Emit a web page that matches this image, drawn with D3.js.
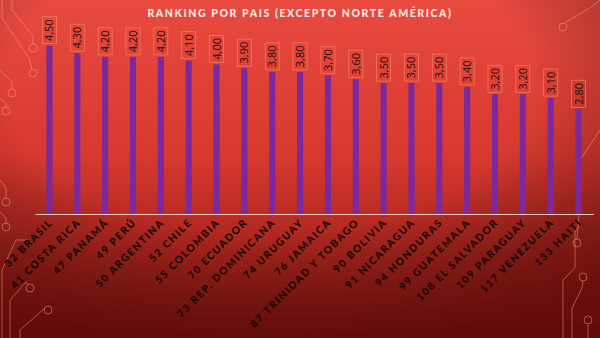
<!DOCTYPE html>
<html><head><meta charset="utf-8">
<script src="https://cdn.jsdelivr.net/npm/d3@7"></script>
<style>html,body{margin:0;padding:0;overflow:hidden;background:#c9302a}</style>
</head><body>
<svg id="c" width="600" height="338"></svg>
<script>
const countries = ["32 BRASIL","41 COSTA RICA","47 PANAMÁ","49 PERÚ","50 ARGENTINA","52 CHILE","55 COLOMBIA","70 ECUADOR","73 REP. DOMINICANA","74 URUGUAY","76 JAMAICA","87 TRINIDAD Y TOBAGO","90 BOLIVIA","91 NICARAGUA","94 HONDURAS","99 GUATEMALA","108 EL SALVADOR","109 PARAGUAY","117 VENEZUELA","133 HAITI"];
const values = [4.5,4.3,4.2,4.2,4.2,4.1,4.0,3.9,3.8,3.8,3.7,3.6,3.5,3.5,3.5,3.4,3.2,3.2,3.1,2.8];
const valueLabels = ["4,50","4,30","4,20","4,20","4,20","4,10","4,00","3,90","3,80","3,80","3,70","3,60","3,50","3,50","3,50","3,40","3,20","3,20","3,10","2,80"];
const title = "RANKING POR PAIS (EXCEPTO NORTE AMÉRICA)";

const W = 600, H = 338;
const svg = d3.select("#c");
const defs = svg.append("defs");
const lg = defs.append("linearGradient").attr("id","bg").attr("x1",0).attr("y1",0).attr("x2",0).attr("y2",1);
lg.append("stop").attr("offset","0%").attr("stop-color","#e84a3f");
lg.append("stop").attr("offset","45%").attr("stop-color","#d93a30");
lg.append("stop").attr("offset","75%").attr("stop-color","#a8241c");
lg.append("stop").attr("offset","100%").attr("stop-color","#861610");
const rg = defs.append("radialGradient").attr("id","vig").attr("cx","45%").attr("cy","25%").attr("r","80%");
rg.append("stop").attr("offset","55%").attr("stop-color","#000").attr("stop-opacity",0);
rg.append("stop").attr("offset","100%").attr("stop-color","#3a0000").attr("stop-opacity",0.5);
svg.append("rect").attr("width",W).attr("height",H).attr("fill","url(#bg)");
svg.append("rect").attr("width",W).attr("height",H).attr("fill","url(#vig)");

// decorative circuit lines
const deco = svg.append("g").attr("fill","none").attr("stroke","#f7a07a").attr("stroke-opacity",0.5).attr("stroke-width",1);
const circuits = [
  {d:"M12,0 L12,10 L33,36 L33,44", c:[33,48]},
  {d:"M2,0 L2,18 L29,58 L32,69", c:[33,73]},
  {d:"M0,70 L12,82 L12,89", c:[12,93]},
  {d:"M0,98 L6,104 L6,107", c:[6,111]},
  {d:"M0,180 L6,188 L6,198", c:[6,202]},
  {d:"M0,212 L6,218 L6,223", c:[6,227]},
  {d:"M2,338 L2,270 L16,240 L28,240", c:null},
  {d:"M10,338 L10,300 L26,282 L27,284", c:[30,288]},
  {d:"M20,338 L20,330 L45,308", c:[48,310]},
  {d:"M600,0 L590,8 L566,22", c:[563,27]},
  {d:"M600,130 L580,160 L580,200 L577,239", c:[577,243]},
  {d:"M563,338 L563,280 L575,268 L575,232 L579,226", c:null},
  {d:"M572,338 L572,308 L582,288 L583,281", c:[583,277]},
  {d:"M588,338 L588,325", c:[588,320]}
];
circuits.forEach(p => {
  deco.append("path").attr("d", p.d);
  if (p.c) deco.append("circle").attr("cx",p.c[0]).attr("cy",p.c[1]).attr("r",4);
});

const x = d3.scaleBand().domain(countries).range([35,593]).paddingInner(0.78).paddingOuter(0.41);
const y = d3.scaleLinear().domain([0,5]).range([214,27]);

svg.append("text").attr("x",300).attr("y",17).attr("text-anchor","middle")
  .attr("font-family","Lato, 'Open Sans', sans-serif").attr("font-weight",900)
  .attr("font-size",10.5).attr("letter-spacing",1.6).attr("fill","#fbe9e4").text(title);

// bars
svg.append("g").selectAll("rect").data(values).join("rect")
  .attr("x",(d,i)=>x(countries[i]))
  .attr("width",x.bandwidth())
  .attr("y",d=>y(d))
  .attr("height",d=>y(0)-y(d))
  .attr("fill","#7b2a9e");

// axis
const ax = svg.append("g").attr("transform","translate(0,214)").call(d3.axisBottom(x).tickSize(0).tickFormat(""));
ax.select(".domain").attr("stroke","#f6c8bc").attr("stroke-width",1.2);

// value labels
const vl = svg.append("g");
values.forEach((v,i) => {
  const cx = x(countries[i]) + x.bandwidth()/2;
  const top = y(v);
  vl.append("rect").attr("x",cx-7).attr("y",top-29).attr("width",14).attr("height",27)
    .attr("fill","none").attr("stroke","#f28a5c").attr("stroke-opacity",0.8).attr("stroke-width",0.8);
  vl.append("text").attr("transform",`translate(${cx+4},${top-15.5}) rotate(-90)`)
    .attr("text-anchor","middle").attr("font-family","'Open Sans', sans-serif")
    .attr("font-size",11).attr("fill","#2a0a0a").text(valueLabels[i]);
});

// category labels
svg.append("g").selectAll("text").data(countries).join("text")
  .attr("transform",d=>`translate(${x(d)+x.bandwidth()/2+4},${223}) rotate(-45)`)
  .attr("text-anchor","end")
  .attr("font-family","Lato, sans-serif").attr("font-weight",900)
  .attr("font-size",10.2).attr("letter-spacing",1.6)
  .attr("fill","#1a0505").text(d=>d);
</script>
</body></html>
